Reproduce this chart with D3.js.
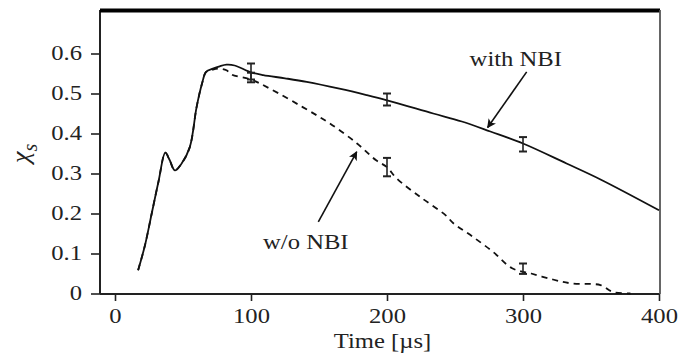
<!DOCTYPE html>
<html>
<head>
<meta charset="utf-8">
<script src="https://cdn.jsdelivr.net/npm/d3@7"></script>
<style>
  html, body { margin: 0; padding: 0; background: #fff; }
  svg { display: block; }
</style>
</head>
<body>
<svg id="chart" width="683" height="355"></svg>
<script>
// time axis [µs] and x_s values
const withNBI_t = [17, 22, 27, 32, 37, 40, 44, 49, 55, 60, 64, 67, 72, 77, 82, 88, 100, 109, 125, 141, 165, 185, 200, 234, 255, 276, 300, 332, 357, 400];
const withNBI_v = [0.058, 0.12, 0.2, 0.28, 0.352, 0.335, 0.308, 0.325, 0.366, 0.466, 0.525, 0.554, 0.562, 0.568, 0.572, 0.57, 0.553, 0.546, 0.538, 0.529, 0.512, 0.496, 0.483, 0.45, 0.43, 0.405, 0.375, 0.325, 0.285, 0.208];

const woNBI_t = [17, 22, 27, 32, 37, 40, 44, 49, 55, 60, 64, 67, 72, 77, 82, 86, 100, 114, 138, 158, 178, 192, 200, 207, 225, 243, 249, 263, 278, 292, 306, 322, 336, 357, 366, 379];
const woNBI_v = [0.058, 0.12, 0.2, 0.28, 0.352, 0.335, 0.308, 0.325, 0.366, 0.466, 0.525, 0.554, 0.56, 0.562, 0.558, 0.547, 0.535, 0.512, 0.466, 0.425, 0.375, 0.333, 0.316, 0.288, 0.24, 0.196, 0.175, 0.142, 0.104, 0.063, 0.05, 0.035, 0.025, 0.021, 0.004, 0.0];

// measured points with error bars
const errT = [100, 200, 300];
const withErr = [0.555, 0.485, 0.373];
const withErrD = [0.02, 0.015, 0.018];
const woErr = [0.54, 0.316, 0.062];
const woErrD = [0.012, 0.023, 0.013];

const xTicks = [0, 100, 200, 300, 400];
const yTicks = [0, 0.1, 0.2, 0.3, 0.4, 0.5, 0.6];

const frame = { left: 100, right: 660, top: 10, bottom: 294 };
const font = '"Liberation Serif", "Times New Roman", serif';
const stretch = 1.12; // the scan is a bit wider than tall

const svg = d3.select('#chart');

const x = d3.scaleLinear().domain([0, 400]).range([115, 659]);
const y = d3.scaleLinear().domain([0, 0.6]).range([293.5, 53.5]);

// Y axis
const yAxis = svg.append('g')
  .attr('transform', `translate(${frame.left},0)`)
  .call(d3.axisLeft(y).tickValues(yTicks).tickSize(9).tickSizeOuter(0)
    .tickFormat(d => d === 0 ? '0' : d3.format('.1f')(d)));
yAxis.select('.domain').remove();
yAxis.selectAll('line').attr('stroke', '#222').attr('stroke-width', 1.6);
yAxis.selectAll('text')
  .attr('x', null)
  .attr('dy', null)
  .attr('transform', `translate(-18,6) scale(${stretch},1)`)
  .attr('fill', '#222')
  .attr('font-family', font)
  .attr('font-size', 22);

// X axis
const xAxis = svg.append('g')
  .attr('transform', `translate(0,${frame.bottom})`)
  .call(d3.axisBottom(x).tickValues(xTicks).tickSize(7).tickSizeOuter(0));
xAxis.select('.domain').remove();
xAxis.selectAll('line').attr('stroke', '#222').attr('stroke-width', 1.6);
xAxis.selectAll('text')
  .attr('y', null)
  .attr('dy', null)
  .attr('transform', `translate(0,29) scale(${stretch},1)`)
  .attr('fill', '#222')
  .attr('font-family', font)
  .attr('font-size', 22);

// frame
svg.append('line')
  .attr('x1', frame.left).attr('x2', frame.left)
  .attr('y1', frame.top).attr('y2', frame.bottom)
  .attr('stroke', '#222').attr('stroke-width', 2);
svg.append('line')
  .attr('x1', frame.left).attr('x2', frame.right)
  .attr('y1', frame.bottom).attr('y2', frame.bottom)
  .attr('stroke', '#222').attr('stroke-width', 2);
svg.append('line')
  .attr('x1', frame.left).attr('x2', frame.right)
  .attr('y1', frame.top + 0.5).attr('y2', frame.top + 0.5)
  .attr('stroke', '#000').attr('stroke-width', 4);
svg.append('line')
  .attr('x1', frame.right).attr('x2', frame.right)
  .attr('y1', frame.top).attr('y2', frame.bottom)
  .attr('stroke', '#555').attr('stroke-width', 1.8);

// curves
const line = d3.line()
  .x(d => x(d[0]))
  .y(d => y(d[1]))
  .curve(d3.curveCatmullRom.alpha(0.5));

svg.append('path')
  .datum(withNBI_t.map((t, i) => [t, withNBI_v[i]]))
  .attr('d', line)
  .attr('fill', 'none')
  .attr('stroke', '#111')
  .attr('stroke-width', 1.8);

svg.append('path')
  .datum(woNBI_t.map((t, i) => [t, woNBI_v[i]]))
  .attr('d', line)
  .attr('fill', 'none')
  .attr('stroke', '#111')
  .attr('stroke-width', 1.8)
  .attr('stroke-dasharray', '6,5');

// error bars
function errorBars(vals, errs) {
  const g = svg.append('g').attr('stroke', '#222').attr('stroke-width', 1.6);
  errT.forEach((t, i) => {
    const cx = x(t), lo = y(vals[i] - errs[i]), hi = y(vals[i] + errs[i]);
    g.append('line').attr('x1', cx).attr('x2', cx).attr('y1', lo).attr('y2', hi);
    g.append('line').attr('x1', cx - 4).attr('x2', cx + 4).attr('y1', lo).attr('y2', lo).attr('stroke-width', 2);
    g.append('line').attr('x1', cx - 4).attr('x2', cx + 4).attr('y1', hi).attr('y2', hi).attr('stroke-width', 2);
  });
}
errorBars(withErr, withErrD);
errorBars(woErr, woErrD);

// annotations
svg.append('defs').append('marker')
  .attr('id', 'arrow')
  .attr('viewBox', '0 0 10 10')
  .attr('refX', 9).attr('refY', 5)
  .attr('markerWidth', 9).attr('markerHeight', 9)
  .attr('markerUnits', 'userSpaceOnUse')
  .attr('orient', 'auto')
  .append('path')
  .attr('d', 'M0,0 L10,5 L0,10 L2.5,5 Z')
  .attr('fill', '#111');

function note(txt, tx, ty, a0, a1) {
  svg.append('text')
    .attr('transform', `translate(${x(tx)},${y(ty)}) scale(${stretch},1)`)
    .attr('text-anchor', 'middle')
    .attr('fill', '#222')
    .attr('font-family', font)
    .attr('font-size', 22)
    .text(txt);
  svg.append('line')
    .attr('x1', x(a0[0])).attr('y1', y(a0[1]))
    .attr('x2', x(a1[0])).attr('y2', y(a1[1]))
    .attr('stroke', '#111').attr('stroke-width', 1.6)
    .attr('marker-end', 'url(#arrow)');
}
note('with NBI', 294.7, 0.568, [302.7, 0.554], [274, 0.415]);
note('w/o NBI', 140.3, 0.111, [149.5, 0.179], [177.7, 0.354]);

// axis titles
svg.append('text')
  .attr('transform', `translate(${(333 + 432) / 2},348) scale(${stretch},1)`)
  .attr('text-anchor', 'middle')
  .attr('fill', '#222')
  .attr('font-family', font)
  .attr('font-size', 22)
  .text('Time [µs]');

const yt = svg.append('text')
  .attr('transform', 'translate(29,163) rotate(-90)')
  .attr('fill', '#222')
  .attr('font-family', font)
  .attr('font-size', 26);
yt.append('tspan').attr('font-style', 'italic').text('χ');
yt.append('tspan').attr('font-style', 'italic').attr('font-size', 20).attr('dy', 8).text('s');
</script>
</body>
</html>
